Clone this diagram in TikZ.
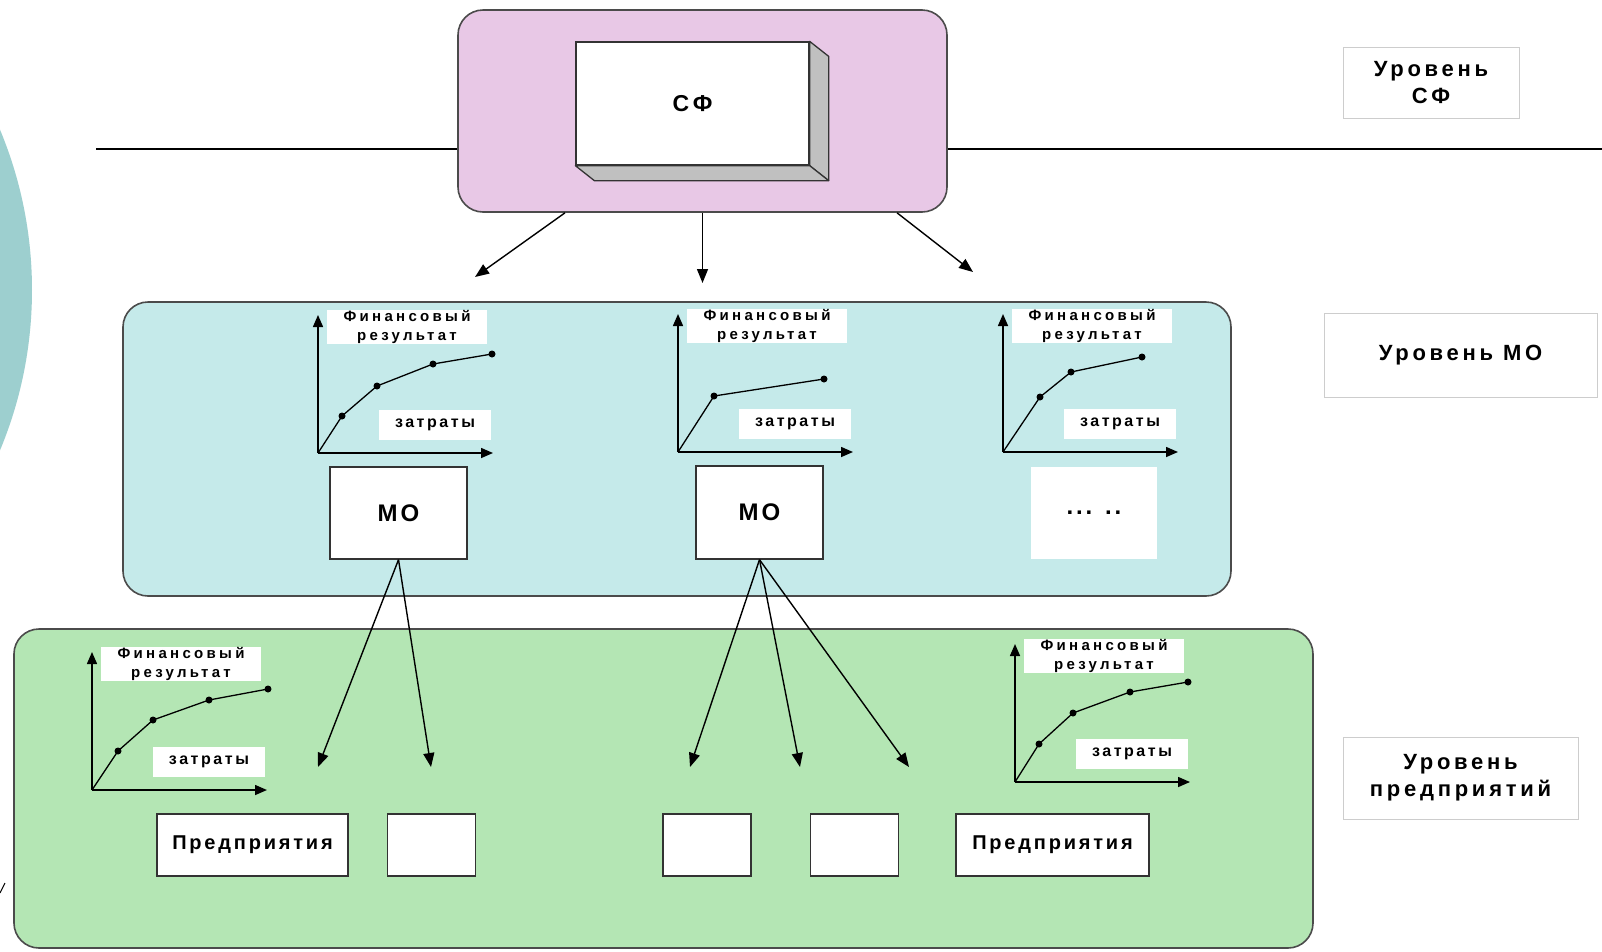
\documentclass[tikz,border=0pt]{standalone}
\usepackage{fontspec}
\newfontfamily\lblfont{Liberation Sans}
\usetikzlibrary{arrows.meta,positioning}

\definecolor{pinkzone}{RGB}{232,200,230}
\definecolor{bluezone}{RGB}{197,234,234}
\definecolor{greenzone}{RGB}{180,230,180}
\definecolor{discteal}{RGB}{157,207,207}
\definecolor{facegray}{RGB}{192,192,192}
\definecolor{zoneline}{RGB}{75,75,75}
\definecolor{lvlline}{RGB}{205,205,205}

\begin{document}
\begin{tikzpicture}[
			x=1pt, y=-1pt,
			zone/.style={
				draw=zoneline,
				line width=1.6pt,
				rounded corners=25pt
			},
			plainbox/.style={
				draw=black!80,
				fill=white,
				line width=1.3pt,
				inner sep=0
			},
			sfbox/.style={
				plainbox,
				minimum width=233,
				minimum height=123,
				font=\lblfont\bfseries\fontsize{23}{27}\selectfont\addfontfeature{LetterSpace=16}
			},
			face/.style={
				draw=black!80,
				fill=facegray,
				line width=1.3pt,
				line join=round
			},
			mobox/.style={
				plainbox,
				font=\lblfont\bfseries\fontsize{24}{28}\selectfont\addfontfeature{LetterSpace=12}
			},
			enbox/.style={
				plainbox,
				minimum height=62,
				font=\lblfont\bfseries\fontsize{20}{24}\selectfont\addfontfeature{LetterSpace=14}
			},
			lvl/.style={
				draw=lvlline,
				fill=white,
				line width=0.8pt,
				align=center,
				font=\lblfont\bfseries\fontsize{22}{27}\selectfont\addfontfeature{LetterSpace=17}
			},
			finlbl/.style={
				fill=white,
				inner sep=0,
				minimum width=160,
				minimum height=31,
				align=center,
				font=\lblfont\bfseries\fontsize{15}{19}\selectfont\addfontfeature{LetterSpace=22}
			},
			costlbl/.style={
				fill=white,
				inner sep=0,
				minimum width=112,
				minimum height=30,
				font=\lblfont\bfseries\fontsize{16}{19}\selectfont\addfontfeature{LetterSpace=16}
			},
			arr/.style={
				-{Triangle[length=14pt,width=11pt]},
				line width=1.4pt
			},
			axis/.style={
				-{Triangle[length=12pt,width=10pt]},
				line width=1.5pt
			},
			fingraph/.pic={
				\node[finlbl] (-fin) at (89,-126) {Финансовый\\результат};
				\node[costlbl] (-cost) at (117,-28) {затраты};
				\draw[axis] (0,0) -- (0,-138);
				\draw[axis] (0,0) -- (175,0);
				\draw[line width=1.3pt] (0,0) foreach \p in {#1} { -- \p };
				\foreach \p in {#1} \fill \p circle (3.5);
			}
		]

		\path[use as bounding box, fill=white] (0,0) rectangle (1602,951);
		\fill[discteal] (-384,290) circle (416);
		\draw[line width=1pt] (0,893) -- (5,883);

		% three levels
		\node[zone, fill=pinkzone, minimum width=489, minimum height=202] (SFzone) at (702.5,111) {};
		\node[zone, fill=bluezone, minimum width=1108, minimum height=294] (MOzone) at (677,449) {};
		\node[zone, fill=greenzone, minimum width=1299, minimum height=319] (ENzone) at (663.5,788.5) {};

		\coordinate (ruleL) at (96,149);
		\coordinate (ruleR) at (1602,149);
		\draw[line width=2.4pt] (ruleL) -- (ruleL -| SFzone.west);
		\draw[line width=2.4pt] (SFzone.east |- ruleR) -- (ruleR);

		% the SF block with its depth
		\node[sfbox] (SF) at (692.5,103.5) {СФ};
		\filldraw[face] (SF.north east) -- ++(19,15) -- ([shift={(19,15)}]SF.south east) -- (SF.south east) -- cycle;
		\filldraw[face] (SF.south west) -- ([shift={(19,15)}]SF.south west) -- ([shift={(19,15)}]SF.south east) -- (SF.south east) -- cycle;

		\coordinate (tipA) at (475,277);
		\coordinate (tipB) at (702.5,283);
		\coordinate (tipC) at (973,272);
		\draw[arr] ([xshift=-137.5]SFzone.south) -- (tipA);
		\draw[arr] (SFzone.south) -- (tipB);
		\draw[arr] ([xshift=194.5]SFzone.south) -- (tipC);

		% MO level
		\pic (G1) at (318,453) {fingraph={(24,-37),(59,-67),(115,-89),(174,-99)}};
		\pic (G2) at (678,452) {fingraph={(36,-56),(146,-73)}};
		\pic (G3) at (1003,452) {fingraph={(37,-55),(68,-80),(139,-95)}};

		\node[mobox, minimum width=137, minimum height=92] (MO1) at (398.5,513) {МО};
		\node[mobox, minimum width=127, minimum height=93] (MO2) at (759.5,512.5) {МО};
		\node[mobox, draw=none, minimum width=126, minimum height=92] (MO3) at (1094,513) {... ..};

		% enterprise level
		\pic (G4) at (92,790) {fingraph={(26,-39),(61,-70),(117,-90),(176,-101)}};
		\pic (G5) at (1015,782) {fingraph={(24,-38),(58,-69),(115,-90),(173,-100)}};

		\node[enbox, minimum width=191] (P1) at (252.5,845) {Предприятия};
		\node[enbox, minimum width=88, right=38pt of P1] (E1) {};
		\node[enbox, minimum width=88] (E2) at (707,845) {};
		\node[enbox, minimum width=88, right=58pt of E2] (E3) {};
		\node[enbox, minimum width=193] (P2) at (1052.5,845) {Предприятия};

		\coordinate (t1) at (318,767);
		\coordinate (t2) at (431,767);
		\coordinate (t3) at (690,767);
		\coordinate (t4) at (800,767);
		\coordinate (t5) at (909,767);
		\foreach \t in {t1,t2} \draw[arr] (MO1.south) -- (\t);
		\foreach \t in {t3,t4,t5} \draw[arr] (MO2.south) -- (\t);

		% level captions
		\node[lvl, minimum width=176, minimum height=71] (L1) at (1431,82.5) {Уровень\\СФ};
		\node[lvl, minimum width=273, minimum height=84] (L2) at (1460.5,355) {Уровень МО};
		\node[lvl, minimum width=235, minimum height=82] (L3) at (1460.5,778) {Уровень\\предприятий};

	\end{tikzpicture}
\end{document}
